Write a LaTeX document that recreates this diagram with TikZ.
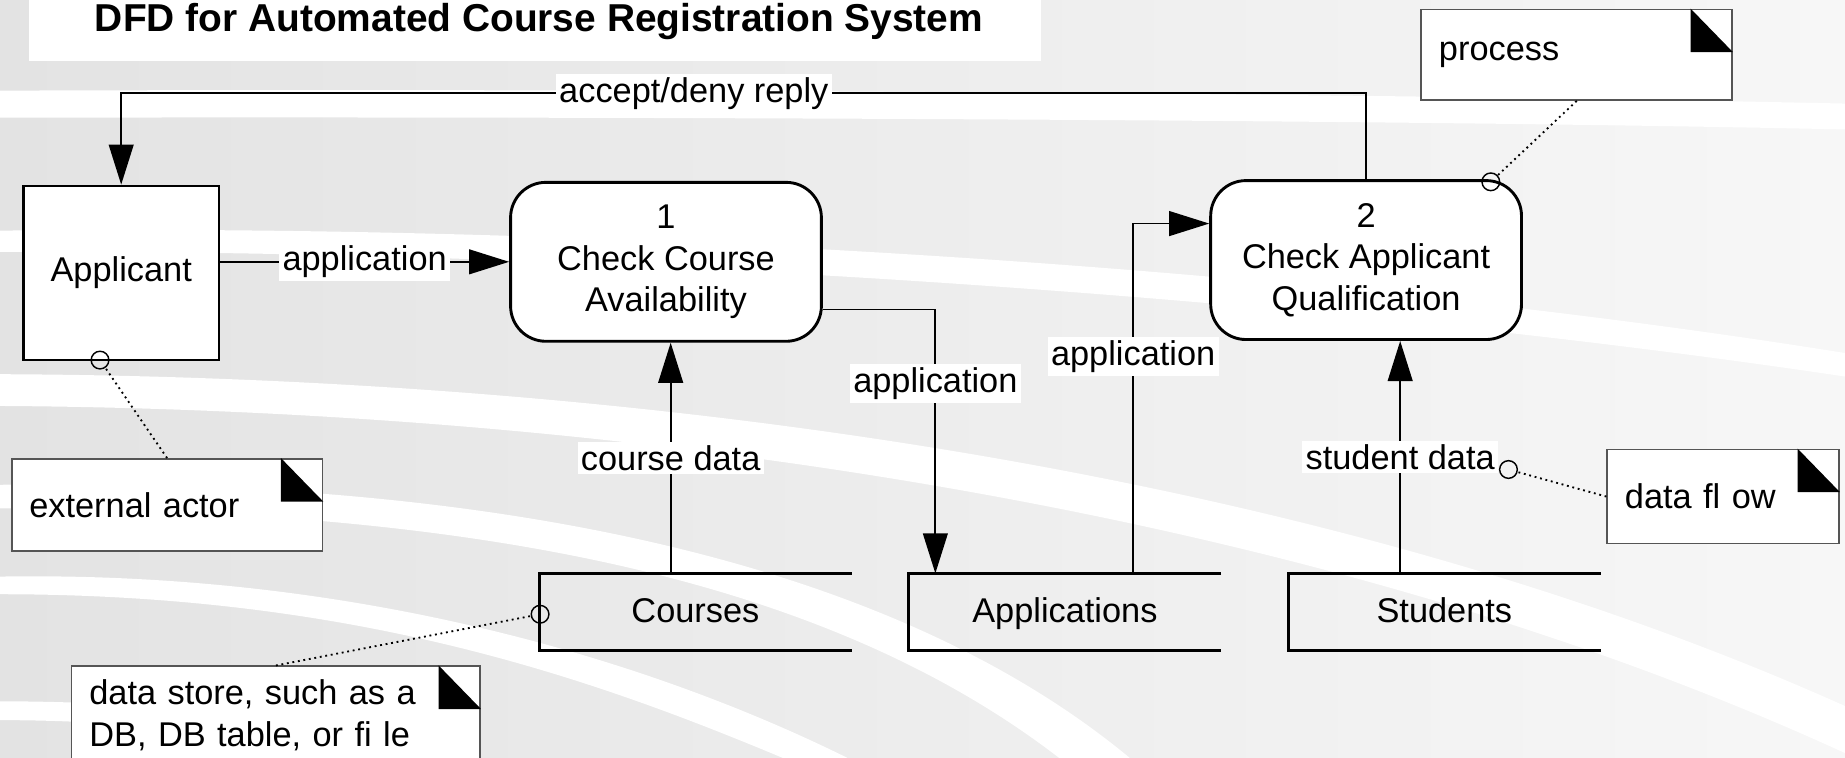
\documentclass[tikz,border=0pt]{standalone}
\usepackage{fontspec}
\setmainfont{Liberation Sans}
\usetikzlibrary{arrows.meta}
\definecolor{slidegray}{HTML}{E3E3E3}
\definecolor{slidelight}{HTML}{F7F7F7}
\definecolor{notegray}{HTML}{555555}
\tikzset{
  every node/.style={font=\fontsize{8.3}{10}\selectfont},
  actor/.style={draw, line width=0.6pt, fill=white, minimum width=1.66cm, minimum height=1.48cm},
  proc/.style={draw, line width=0.7pt, fill=white, rounded corners=0.3cm, align=center,
    minimum width=2.64cm, minimum height=1.35cm},
  store/.style={minimum width=2.64cm, minimum height=0.64cm, text height=0.72em, text depth=0.2em},
  note/.style={draw=notegray, line width=0.4pt, fill=white, align=left, inner xsep=0.15cm, text width=#1},
  flow/.style={line width=0.45pt, -{Triangle[length=0.34cm, width=0.21cm]}},
  lbl/.style={fill=white, inner sep=0.8pt},
  ring/.style={circle, draw, line width=0.35pt, inner sep=0pt, minimum size=0.15cm},
  memo/.style={line width=0.45pt, dash pattern=on 0.45pt off 0.9pt}
}
\begin{document}
\begin{tikzpicture}[x=0.01cm, y=-0.01cm]
  \useasboundingbox (0,0) rectangle (1568,644);
  \shade[left color=slidegray, right color=slidelight] (0,0) rectangle (1568,644);
  \begin{scope}[white]
    \fill (0,77) .. controls (600,75) and (1200,80) .. (1568,88) -- (1568,110) .. controls (1200,102) and (600,99) .. (0,100) -- cycle;
    \fill (0,196) .. controls (500,190) and (1100,225) .. (1568,300) -- (1568,320) .. controls (1100,250) and (500,212) .. (0,214) -- cycle;
    \fill (0,318) .. controls (500,320) and (1100,390) .. (1568,600) -- (1568,640) .. controls (1100,425) and (500,348) .. (0,345) -- cycle;
    \fill (0,412) .. controls (400,405) and (750,470) .. (960,644) -- (900,644) .. controls (700,490) and (400,432) .. (0,432) -- cycle;
    \fill (0,490) .. controls (300,485) and (550,560) .. (720,644) -- (665,644) .. controls (500,575) and (300,505) .. (0,505) -- cycle;
    \fill (0,596) .. controls (150,596) and (300,615) .. (380,644) -- (300,644) .. controls (200,622) and (100,612) .. (0,612) -- cycle;
  \end{scope}
  \fill[white] (25,0) rectangle (885,52);
  \node[anchor=west, inner sep=0pt, font=\bfseries\fontsize{9.4}{11}\selectfont] (title) at (80,18)
    {DFD for Automated Course Registration System};

  \node[actor] (applicant) at (103,232) {Applicant};
  \node[proc] (check1) at (566,222.5) {1\\Check Course\\Availability};
  \node[proc] (check2) at (1161,221) {2\\Check Applicant\\Qualification};
  \node[store] (courses) at (591,520) {Courses};
  \node[store] (applications) at (905,520) {Applications};
  \node[store] (students) at (1227.5,520) {Students};
  \foreach \s in {courses, applications, students}
    \draw[line width=0.7pt] (\s.north east) -- (\s.north west) -- (\s.south west) -- (\s.south east);

  \node[note=2.34cm, minimum height=0.77cm] (processnote) at (1340,46.5) {process};
  \node[note=2.34cm, minimum height=0.78cm] (actornote) at (142,429) {external actor};
  \node[note=3.17cm, minimum height=0.80cm] (storenote) at (234.5,608) {data store, such as a\\DB, DB table, or fi le};
  \node[note=1.67cm, minimum height=0.80cm] (flownote) at (1464.5,422) {data fl ow};
  \foreach \n in {processnote, actornote, storenote, flownote}
    \fill ([xshift=-0.36cm]\n.north east) -- ++(0,37) -- ++(36,0) -- cycle;

  \coordinate (cd) at ([xshift=-0.21cm]courses.north);
  \coordinate (sd) at ([xshift=-0.375cm]students.north);
  \draw[flow] (applicant.east |- check1) -- node[lbl] {application} (check1);
  \draw[flow] (check2.north) -- ++(0,-73) -| node[lbl, pos=0.27] {accept/deny reply} (applicant.north);
  \draw[flow] ([yshift=-0.405cm]check1.east) -| node[lbl, pos=0.64] {application} ([xshift=-1.1cm]applications.north);
  \draw[flow] ([xshift=0.58cm]applications.north) |- node[lbl, pos=0.31] {application} ([yshift=0.31cm]check2.west);
  \draw[flow] (cd) -- node[lbl] {course data} (cd |- check1.south);
  \draw[flow] (sd) -- node[lbl] (sdlabel) {student data} (sd |- check2.south);

  \node[ring] (actorring) at (85,306) {};
  \node[ring] (storering) at (459,522) {};
  \node[ring] (procring) at (1267,154.5) {};
  \node[ring] (flowring) at (1282,399) {};
  \draw[memo] (actornote.north) -- (actorring);
  \draw[memo] (storenote.north) -- (storering);
  \draw[memo] (processnote.south) -- (procring);
  \draw[memo] (flownote.west) -- (flowring);
\end{tikzpicture}
\end{document}
